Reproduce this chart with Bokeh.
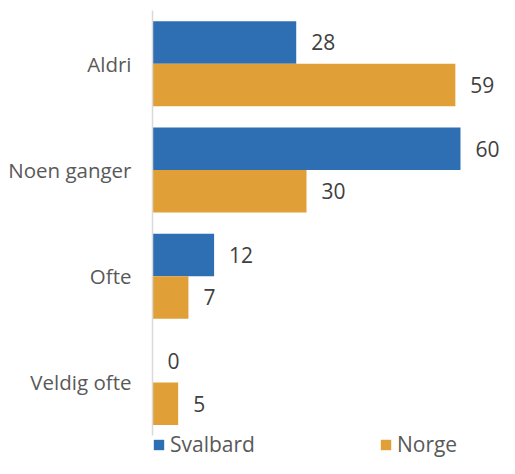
from bokeh.plotting import figure
from bokeh.models import ColumnDataSource, Legend, LegendItem, Range1d, FixedTicker
from bokeh.core.properties import value
from bokeh.embed import file_html
from bokeh.resources import INLINE

categories = ["Aldri", "Noen ganger", "Ofte", "Veldig ofte"]
svalbard = [28, 60, 12, 0]
norge = [59, 30, 7, 5]
series_names = ["Svalbard", "Norge"]
colors = ["#2E6EB3", "#E09F37"]

FONT = "Open Sans"

n = len(categories)
ypos = [n - i - 0.5 for i in range(n)]
src = ColumnDataSource(dict(
    y_s=[y + 0.2 for y in ypos],
    y_n=[y - 0.2 for y in ypos],
    svalbard=svalbard,
    norge=norge,
    sval_lbl=[str(v) for v in svalbard],
    norge_lbl=[str(v) for v in norge],
))

p = figure(width=499, height=458, output_backend="svg", toolbar_location=None,
           y_range=Range1d(-0.216, n), x_range=Range1d(0, 67.6),
           min_border_left=152, min_border_top=10, min_border_right=0, min_border_bottom=0)
p.outline_line_color = None
p.grid.visible = False
p.xaxis.visible = False

ax = p.yaxis[0]
ax.ticker = FixedTicker(ticks=ypos)
ax.major_label_overrides = {y: c for y, c in zip(ypos, categories)}
ax.bounds = (0, n)
ax.axis_line_color = "#D9D9D9"
ax.axis_line_width = 1.5
ax.major_tick_line_color = None
ax.minor_tick_line_color = None
ax.major_label_text_font = FONT
ax.major_label_text_font_size = "20.5px"
ax.major_label_text_color = "#595959"
ax.major_label_standoff = 15

r1 = p.hbar(y="y_s", right="svalbard", left=0, height=0.4,
            source=src, fill_color=colors[0], line_color=None)
r2 = p.hbar(y="y_n", right="norge", left=0, height=0.4,
            source=src, fill_color=colors[1], line_color=None)

for col, lbl, ycol in (("svalbard", "sval_lbl", "y_s"), ("norge", "norge_lbl", "y_n")):
    p.text(x=col, y=ycol, text=lbl, source=src,
           x_offset=15, text_baseline="middle", text_align="left",
           text_font=value(FONT), text_font_size="21px", text_color="#404040")

legend = Legend(items=[LegendItem(label=series_names[0], renderers=[r1]),
                       LegendItem(label=series_names[1], renderers=[r2])],
                orientation="horizontal", location="bottom_left",
                glyph_width=13, glyph_height=13, label_standoff=5, spacing=124,
                padding=0, margin=0, border_line_color=None, background_fill_alpha=0,
                label_text_font=FONT, label_text_font_size="21px", label_text_color="#595959")
p.add_layout(legend, "center")

open("out.html", "w").write(file_html(p, INLINE))
